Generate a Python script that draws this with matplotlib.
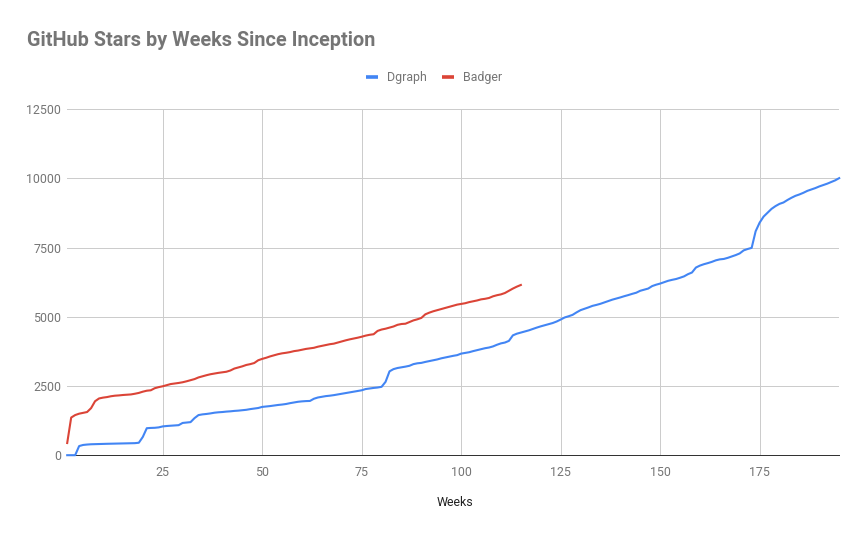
import matplotlib
matplotlib.use("Agg")
import matplotlib.pyplot as plt

TITLE = "GitHub Stars by Weeks Since Inception"
X_LABEL = "Weeks"
X_TICKS = [25, 50, 75, 100, 125, 150, 175]
Y_TICKS = [0, 2500, 5000, 7500, 10000, 12500]

dgraph = [0, 0, 0, 330, 370, 385, 395, 400, 405, 410, 412, 415, 420, 425, 425, 430, 430, 435, 450, 660,
          975, 985, 990, 1005, 1040, 1055, 1065, 1075, 1085, 1165, 1180, 1195, 1340, 1450, 1475, 1490, 1510, 1535, 1550, 1560,
          1575, 1585, 1600, 1610, 1625, 1640, 1665, 1685, 1705, 1745, 1760, 1775, 1795, 1815, 1830, 1850, 1880, 1905, 1930, 1945,
          1955, 1960, 2040, 2085, 2110, 2135, 2150, 2170, 2195, 2220, 2245, 2270, 2295, 2320, 2345, 2390, 2410, 2430, 2445, 2470,
          2650, 3030, 3110, 3150, 3175, 3200, 3230, 3290, 3320, 3335, 3370, 3400, 3430, 3460, 3500, 3530, 3560, 3590, 3615, 3670,
          3695, 3720, 3760, 3795, 3830, 3865, 3890, 3930, 3990, 4040, 4070, 4130, 4330, 4390, 4430, 4470, 4510, 4560, 4610, 4655,
          4695, 4735, 4775, 4830, 4900, 4975, 5020, 5070, 5160, 5240, 5290, 5340, 5395, 5430, 5470, 5520, 5570, 5620, 5660, 5700,
          5745, 5785, 5830, 5870, 5940, 5980, 6020, 6110, 6160, 6200, 6250, 6300, 6335, 6365, 6410, 6460, 6540, 6600, 6780, 6850,
          6900, 6940, 6985, 7040, 7075, 7090, 7130, 7180, 7230, 7290, 7400, 7450, 7490, 8090, 8400, 8620, 8760, 8900, 9000, 9080,
          9130, 9220, 9300, 9370, 9420, 9480, 9550, 9600, 9650, 9710, 9760, 9810, 9870, 9930, 10010]

badger = [440, 1360, 1450, 1500, 1530, 1560, 1700, 1950, 2050, 2080, 2100, 2130, 2150, 2160, 2175, 2185, 2195, 2220, 2250, 2295,
          2330, 2345, 2420, 2460, 2490, 2530, 2570, 2590, 2610, 2635, 2670, 2710, 2750, 2810, 2850, 2890, 2925, 2950, 2975, 2995,
          3015, 3060, 3130, 3170, 3210, 3260, 3290, 3330, 3430, 3480, 3520, 3570, 3610, 3650, 3680, 3700, 3725, 3760, 3780, 3810,
          3840, 3860, 3880, 3920, 3950, 3980, 4010, 4030, 4070, 4110, 4150, 4185, 4215, 4245, 4280, 4320, 4350, 4370, 4490, 4540,
          4570, 4610, 4650, 4710, 4740, 4750, 4810, 4870, 4910, 4960, 5090, 5150, 5200, 5240, 5280, 5320, 5360, 5400, 5440, 5465,
          5490, 5530, 5560, 5590, 5630, 5650, 5680, 5740, 5780, 5810, 5860, 5940, 6020, 6090, 6150]

weeks_d = list(range(1, len(dgraph) + 1))
weeks_b = list(range(1, len(badger) + 1))

W, H = 867, 536
plt.rcParams["font.family"] = ["Roboto", "DejaVu Sans"]
fig = plt.figure(figsize=(W / 100, H / 100), dpi=100, facecolor="white")
L, R, T, B = 67.2, 839.2, 109.2, 455.2
ax = fig.add_axes([L / W, 1 - B / H, (R - L) / W, (B - T) / H])

ax.plot(weeks_d, dgraph, color="#4285f4", lw=1.5, label="Dgraph", clip_on=False, zorder=3, solid_joinstyle="round")
ax.plot(weeks_b, badger, color="#db4437", lw=1.5, label="Badger", clip_on=False, zorder=3, solid_joinstyle="round")

ax.set_xlim(1, 195)
ax.set_ylim(0, 12500)
ax.set_xticks(X_TICKS)
ax.set_yticks(Y_TICKS)
ax.grid(True, color="#cccccc", lw=0.72)
ax.set_axisbelow(True)
for s in ["top", "right", "left"]:
    ax.spines[s].set_visible(False)
ax.spines["bottom"].set_color("#333333")
ax.spines["bottom"].set_linewidth(0.72)
ax.spines["bottom"].set_zorder(2)
ax.tick_params(axis="both", length=0, labelsize=8.9, labelcolor="#757575")
ax.tick_params(axis="x", pad=7.5)
ax.tick_params(axis="y", pad=4.3)
ax.set_xlabel(X_LABEL, fontsize=8.9, color="#222222")
ax.xaxis.set_label_coords((454.5 - L) / (R - L), -(502.5 - B) / (B - T))
ax.xaxis.label.set_verticalalignment("center")

fig.text(27 / W, 1 - 41 / H, TITLE, fontsize=14.3, fontweight="bold", color="#757575", va="center", ha="left")

leg = fig.legend(loc="center", bbox_to_anchor=(434 / W, 1 - 77.5 / H), ncol=2, frameon=False,
                 fontsize=8.9, labelcolor="#757575", handlelength=0.97, handletextpad=0.73,
                 columnspacing=1.25, borderpad=0, borderaxespad=0)
for h in leg.get_lines():
    h.set_linewidth(2.6)
    h.set_solid_capstyle("butt")

fig.savefig("out.png", dpi=100, facecolor="white")
